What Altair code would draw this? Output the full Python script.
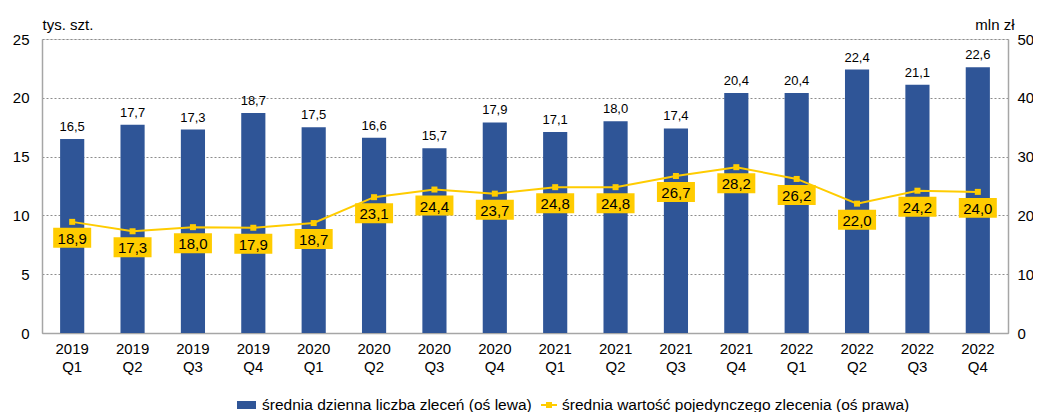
import altair as alt
import pandas as pd

categories = ["2019 Q1", "2019 Q2", "2019 Q3", "2019 Q4",
              "2020 Q1", "2020 Q2", "2020 Q3", "2020 Q4",
              "2021 Q1", "2021 Q2", "2021 Q3", "2021 Q4",
              "2022 Q1", "2022 Q2", "2022 Q3", "2022 Q4"]
orders_daily = [16.5, 17.7, 17.3, 18.7, 17.5, 16.6, 15.7, 17.9,
                17.1, 18.0, 17.4, 20.4, 20.4, 22.4, 21.1, 22.6]
order_value = [18.9, 17.3, 18.0, 17.9, 18.7, 23.1, 24.4, 23.7,
               24.8, 24.8, 26.7, 28.2, 26.2, 22.0, 24.2, 24.0]
left_ticks = [0, 5, 10, 15, 20, 25]
right_ticks = [0, 10, 20, 30, 40, 50]
left_title = "tys. szt."
right_title = "mln zł"
legend_labels = ["średnia dzienna liczba zleceń (oś lewa)",
                 "średnia wartość pojedynczego zlecenia (oś prawa)"]

BLUE = "#2F5597"
YELLOW = "#FFCC00"
FONT = "Liberation Sans"

df = pd.DataFrame({"cat": categories, "bar": orders_daily, "val": order_value})

x = alt.X("cat:N", sort=categories,
          scale=alt.Scale(paddingInner=0.6, paddingOuter=0.3),
          axis=alt.Axis(title=None, labelAngle=0, labelExpr="split(datum.label, ' ')",
                        labelFontSize=15, labelColor="#000", labelFont=FONT,
                        labelLineHeight=18, labelPadding=8, labelBaseline="top",
                        ticks=False, tickSize=0, domainColor="#A6A6A6", domainWidth=1.5))

yl = alt.Y("bar:Q", scale=alt.Scale(domain=[0, 25], nice=False),
           axis=alt.Axis(title=left_title, values=left_ticks,
                         titleAngle=0, titleX=0, titleY=-10, titleAlign="left",
                         titleBaseline="alphabetic", titleFontSize=15, titleFontWeight="normal",
                         titleFont=FONT, titleColor="#000",
                         labelFontSize=15, labelFont=FONT, labelColor="#000",
                         labelPadding=13, ticks=False, tickSize=0,
                         domainColor="#A6A6A6", domainWidth=1.5,
                         grid=True, gridColor="#8C8C8C", gridDash=[2, 2], gridWidth=1))

yr = alt.Y("val:Q", scale=alt.Scale(domain=[0, 50], nice=False),
           axis=alt.Axis(title=right_title, orient="right", values=right_ticks,
                         titleAngle=0, titleX=6, titleY=-10, titleAlign="right",
                         titleBaseline="alphabetic", titleFontSize=15, titleFontWeight="normal",
                         titleFont=FONT, titleColor="#000",
                         labelFontSize=15, labelFont=FONT, labelColor="#000",
                         labelPadding=9, ticks=False, tickSize=0,
                         domainColor="#A6A6A6", domainWidth=1.5, grid=False))

base = alt.Chart(df)

bars = base.mark_bar(color=BLUE).encode(x=x, y=yl)

bar_text = base.transform_calculate(
    lbl="replace(format(datum.bar, '.1f'), '.', ',')"
).mark_text(baseline="alphabetic", dy=-8, fontSize=13, font=FONT, color="#000").encode(
    x=x, y=yl, text="lbl:N")

left = alt.layer(bars, bar_text)

line = base.mark_line(color=YELLOW, strokeWidth=2).encode(x=x, y=yr)
pts = base.mark_square(color=YELLOW, size=36, opacity=1).encode(x=x, y=yr)
boxes = base.mark_point(shape="M-1,-0.526L1,-0.526L1,0.526L-1,0.526Z", size=1444,
                        filled=True, color=YELLOW, opacity=1, yOffset=16).encode(x=x, y=yr)
box_text = base.transform_calculate(
    lbl="replace(format(datum.val, '.1f'), '.', ',')"
).mark_text(baseline="middle", dy=17, fontSize=15, font=FONT, color="#000").encode(
    x=x, y=yr, text="lbl:N")

right = alt.layer(line, pts, boxes, box_text)

# legend
leg_df1 = pd.DataFrame({"t": [legend_labels[0]]})
leg_df2 = pd.DataFrame({"t": [legend_labels[1]]})
LY = 366
leg_sq = alt.Chart(leg_df1).mark_point(shape="M-1,-0.42L1,-0.42L1,0.42L-1,0.42Z", size=361,
                                       filled=True, color=BLUE, opacity=1).encode(
    x=alt.value(204.5), y=alt.value(LY))
leg_t1 = alt.Chart(leg_df1).mark_text(align="left", baseline="middle", fontSize=15.5,
                                      font=FONT, color="#000").encode(
    x=alt.value(220), y=alt.value(LY), text="t:N")
leg_line = alt.Chart(leg_df2).mark_rule(color=YELLOW, strokeWidth=2).encode(
    x=alt.value(499), x2=alt.value(515), y=alt.value(LY))
leg_pt = alt.Chart(leg_df2).mark_square(color=YELLOW, size=36, opacity=1).encode(
    x=alt.value(507), y=alt.value(LY))
leg_t2 = alt.Chart(leg_df2).mark_text(align="left", baseline="middle", fontSize=15.5,
                                      font=FONT, color="#000").encode(
    x=alt.value(520), y=alt.value(LY), text="t:N")

chart = alt.layer(left, right, leg_sq, leg_t1, leg_line, leg_pt, leg_t2).resolve_scale(
    y="independent"
).properties(
    width=966, height=294,
    padding={"left": 34, "top": 31, "right": 25, "bottom": 79},
    autosize=alt.AutoSizeParams(type="none"),
).configure_view(stroke=None).configure(background="white")

chart.save("out.html", embed_options={"renderer": "svg", "actions": False})
